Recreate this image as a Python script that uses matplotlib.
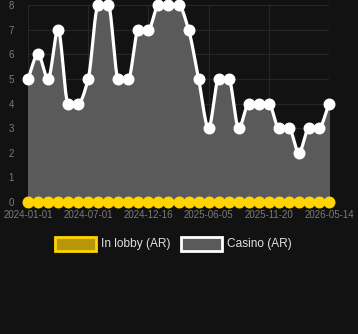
import numpy as np
import matplotlib.pyplot as plt
from matplotlib.patches import Rectangle

plt.rcParams['font.family'] = ['Liberation Sans', 'DejaVu Sans']

# data
casino = [5, 6, 5, 7, 4, 4, 5, 8, 8, 5, 5, 7, 7, 8, 8, 8, 7, 5, 3, 5, 5,
          3, 4, 4, 4, 3, 3, 2, 3, 3, 4]
in_lobby = [0] * 31
tick_labels = ['2024-01-01', '2024-07-01', '2024-12-16', '2025-06-05',
               '2025-11-20', '2026-05-14']
tick_pos = [0, 6, 12, 18, 24, 30]

bg = '#121212'


def monotone(y, n=20):
    # monotone cubic curve through the points, only for drawing the line
    y = np.asarray(y, float)
    x = np.arange(len(y), dtype=float)
    d = np.diff(y)
    m = np.zeros_like(y)
    m[0], m[-1] = d[0], d[-1]
    for i in range(1, len(y) - 1):
        if d[i - 1] * d[i] > 0:
            m[i] = 2 / (1 / d[i - 1] + 1 / d[i])
    xs, ys = [], []
    for i in range(len(y) - 1):
        t = np.linspace(0, 1, n, endpoint=False)
        h00 = 2 * t**3 - 3 * t**2 + 1
        h10 = t**3 - 2 * t**2 + t
        h01 = -2 * t**3 + 3 * t**2
        h11 = t**3 - t**2
        xs.append(x[i] + t)
        ys.append(h00 * y[i] + h10 * m[i] + h01 * y[i + 1] + h11 * m[i + 1])
    xs.append([x[-1]])
    ys.append([y[-1]])
    return np.concatenate(xs), np.concatenate(ys)


fig = plt.figure(figsize=(3.58, 3.34), dpi=100, facecolor=bg)
ax = fig.add_axes([28 / 358, 1 - 202 / 334, 301 / 358, 197 / 334])
ax.set_facecolor(bg)

x = np.arange(len(casino))
sx, sy = monotone(casino)
ax.fill_between(sx, sy, 0, color='#5a5a5a', zorder=1)
ax.plot(sx, sy, color='white', lw=2.3, zorder=3, solid_capstyle='round')
ax.plot(x, casino, 'o', color='white', ms=7.6, zorder=4, clip_on=False)

ax.plot(x, in_lobby, color='#ffd400', lw=2.3, zorder=5, clip_on=False)
ax.plot(x, in_lobby, 'o', color='#ffd400', ms=7.6, zorder=6, clip_on=False)

ax.set_xlim(0, 30)
ax.set_ylim(0, 8)
ax.set_yticks(range(0, 9))
ax.set_xticks(tick_pos)
ax.set_xticklabels(tick_labels)
ax.grid(True, color='#262626', lw=0.8, zorder=0)
ax.set_axisbelow(True)
for s in ax.spines.values():
    s.set_visible(False)
ax.tick_params(length=0, colors='#7a7a7a', labelsize=7, pad=6)
ax.tick_params(axis='y', pad=10)

# legend
fig.patches.append(Rectangle((55 / 358, 1 - 251 / 334), 41 / 358, 14 / 334,
                             transform=fig.transFigure, facecolor='#b8980a',
                             edgecolor='#ffd400', lw=2))
fig.text(101 / 358, 1 - 244 / 334, 'In lobby (AR)', color='#e0e0e0',
         fontsize=8.6, va='center')
fig.patches.append(Rectangle((181 / 358, 1 - 251 / 334), 41 / 358, 14 / 334,
                             transform=fig.transFigure, facecolor='#5a5a5a',
                             edgecolor='white', lw=2))
fig.text(227 / 358, 1 - 244 / 334, 'Casino (AR)', color='#e0e0e0',
         fontsize=8.6, va='center')

fig.savefig('out.png', dpi=100, facecolor=bg)
